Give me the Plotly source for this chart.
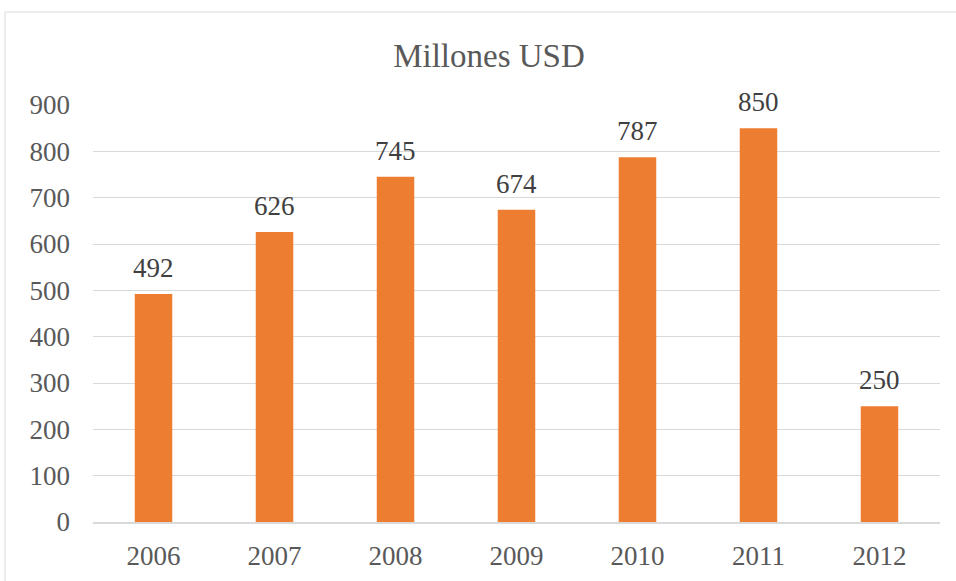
import plotly.graph_objects as go

years = ["2006", "2007", "2008", "2009", "2010", "2011", "2012"]
values = [492, 626, 745, 674, 787, 850, 250]
y_ticks = [0, 100, 200, 300, 400, 500, 600, 700, 800, 900]

serif = "Liberation Serif"

fig = go.Figure(
    go.Bar(
        x=years,
        y=values,
        marker=dict(color="#ED7D31", line=dict(width=0)),
        hoverinfo="x+y",
    )
)

# value labels above each bar (category index positions)
for i, v in enumerate(values):
    fig.add_annotation(
        x=i,
        y=v,
        xref="x",
        yref="y",
        text=str(v),
        showarrow=False,
        yanchor="bottom",
        yshift=9,
        font=dict(family=serif, size=27, color="#404040"),
    )

L, R, T, B = 93, 16, 105, 59
W, H = 956, 581
pw, ph = W - L - R, H - T - B

fig.update_layout(
    width=W,
    height=H,
    margin=dict(l=L, r=R, t=T, b=B, autoexpand=False),
    paper_bgcolor="white",
    plot_bgcolor="white",
    bargap=0.69,
    showlegend=False,
    title=dict(
        text="Millones USD",
        x=489 / W,
        xanchor="center",
        y=1 - 55 / H,
        yanchor="middle",
        font=dict(family=serif, size=33, color="#595959"),
    ),
    font=dict(family=serif, color="#595959"),
)

fig.update_xaxes(
    type="category",
    range=[-0.5, len(years) - 0.5],
    automargin=False,
    showgrid=False,
    showline=True,
    linecolor="#d9d9d9",
    linewidth=2,
    ticks="",
    tickfont=dict(family=serif, size=27, color="#595959"),
    ticklabelstandoff=9,
)
fig.update_yaxes(
    range=[0, 900],
    tickvals=y_ticks,
    automargin=False,
    showgrid=True,
    gridcolor="#d9d9d9",
    gridwidth=1,
    zeroline=False,
    showline=False,
    ticks="",
    tickfont=dict(family=serif, size=27, color="#595959"),
    ticklabelstandoff=22,
)

# outer chart frame
fig.add_shape(
    type="rect",
    xref="paper",
    yref="paper",
    x0=(5 - L) / pw,
    x1=(W + 2 - L) / pw,
    y0=(H - B - (H + 2)) / ph,
    y1=(H - B - 12) / ph,
    line=dict(color="#d9d9d9", width=1),
    fillcolor="rgba(0,0,0,0)",
    layer="below",
)

fig.write_html("out.html")
